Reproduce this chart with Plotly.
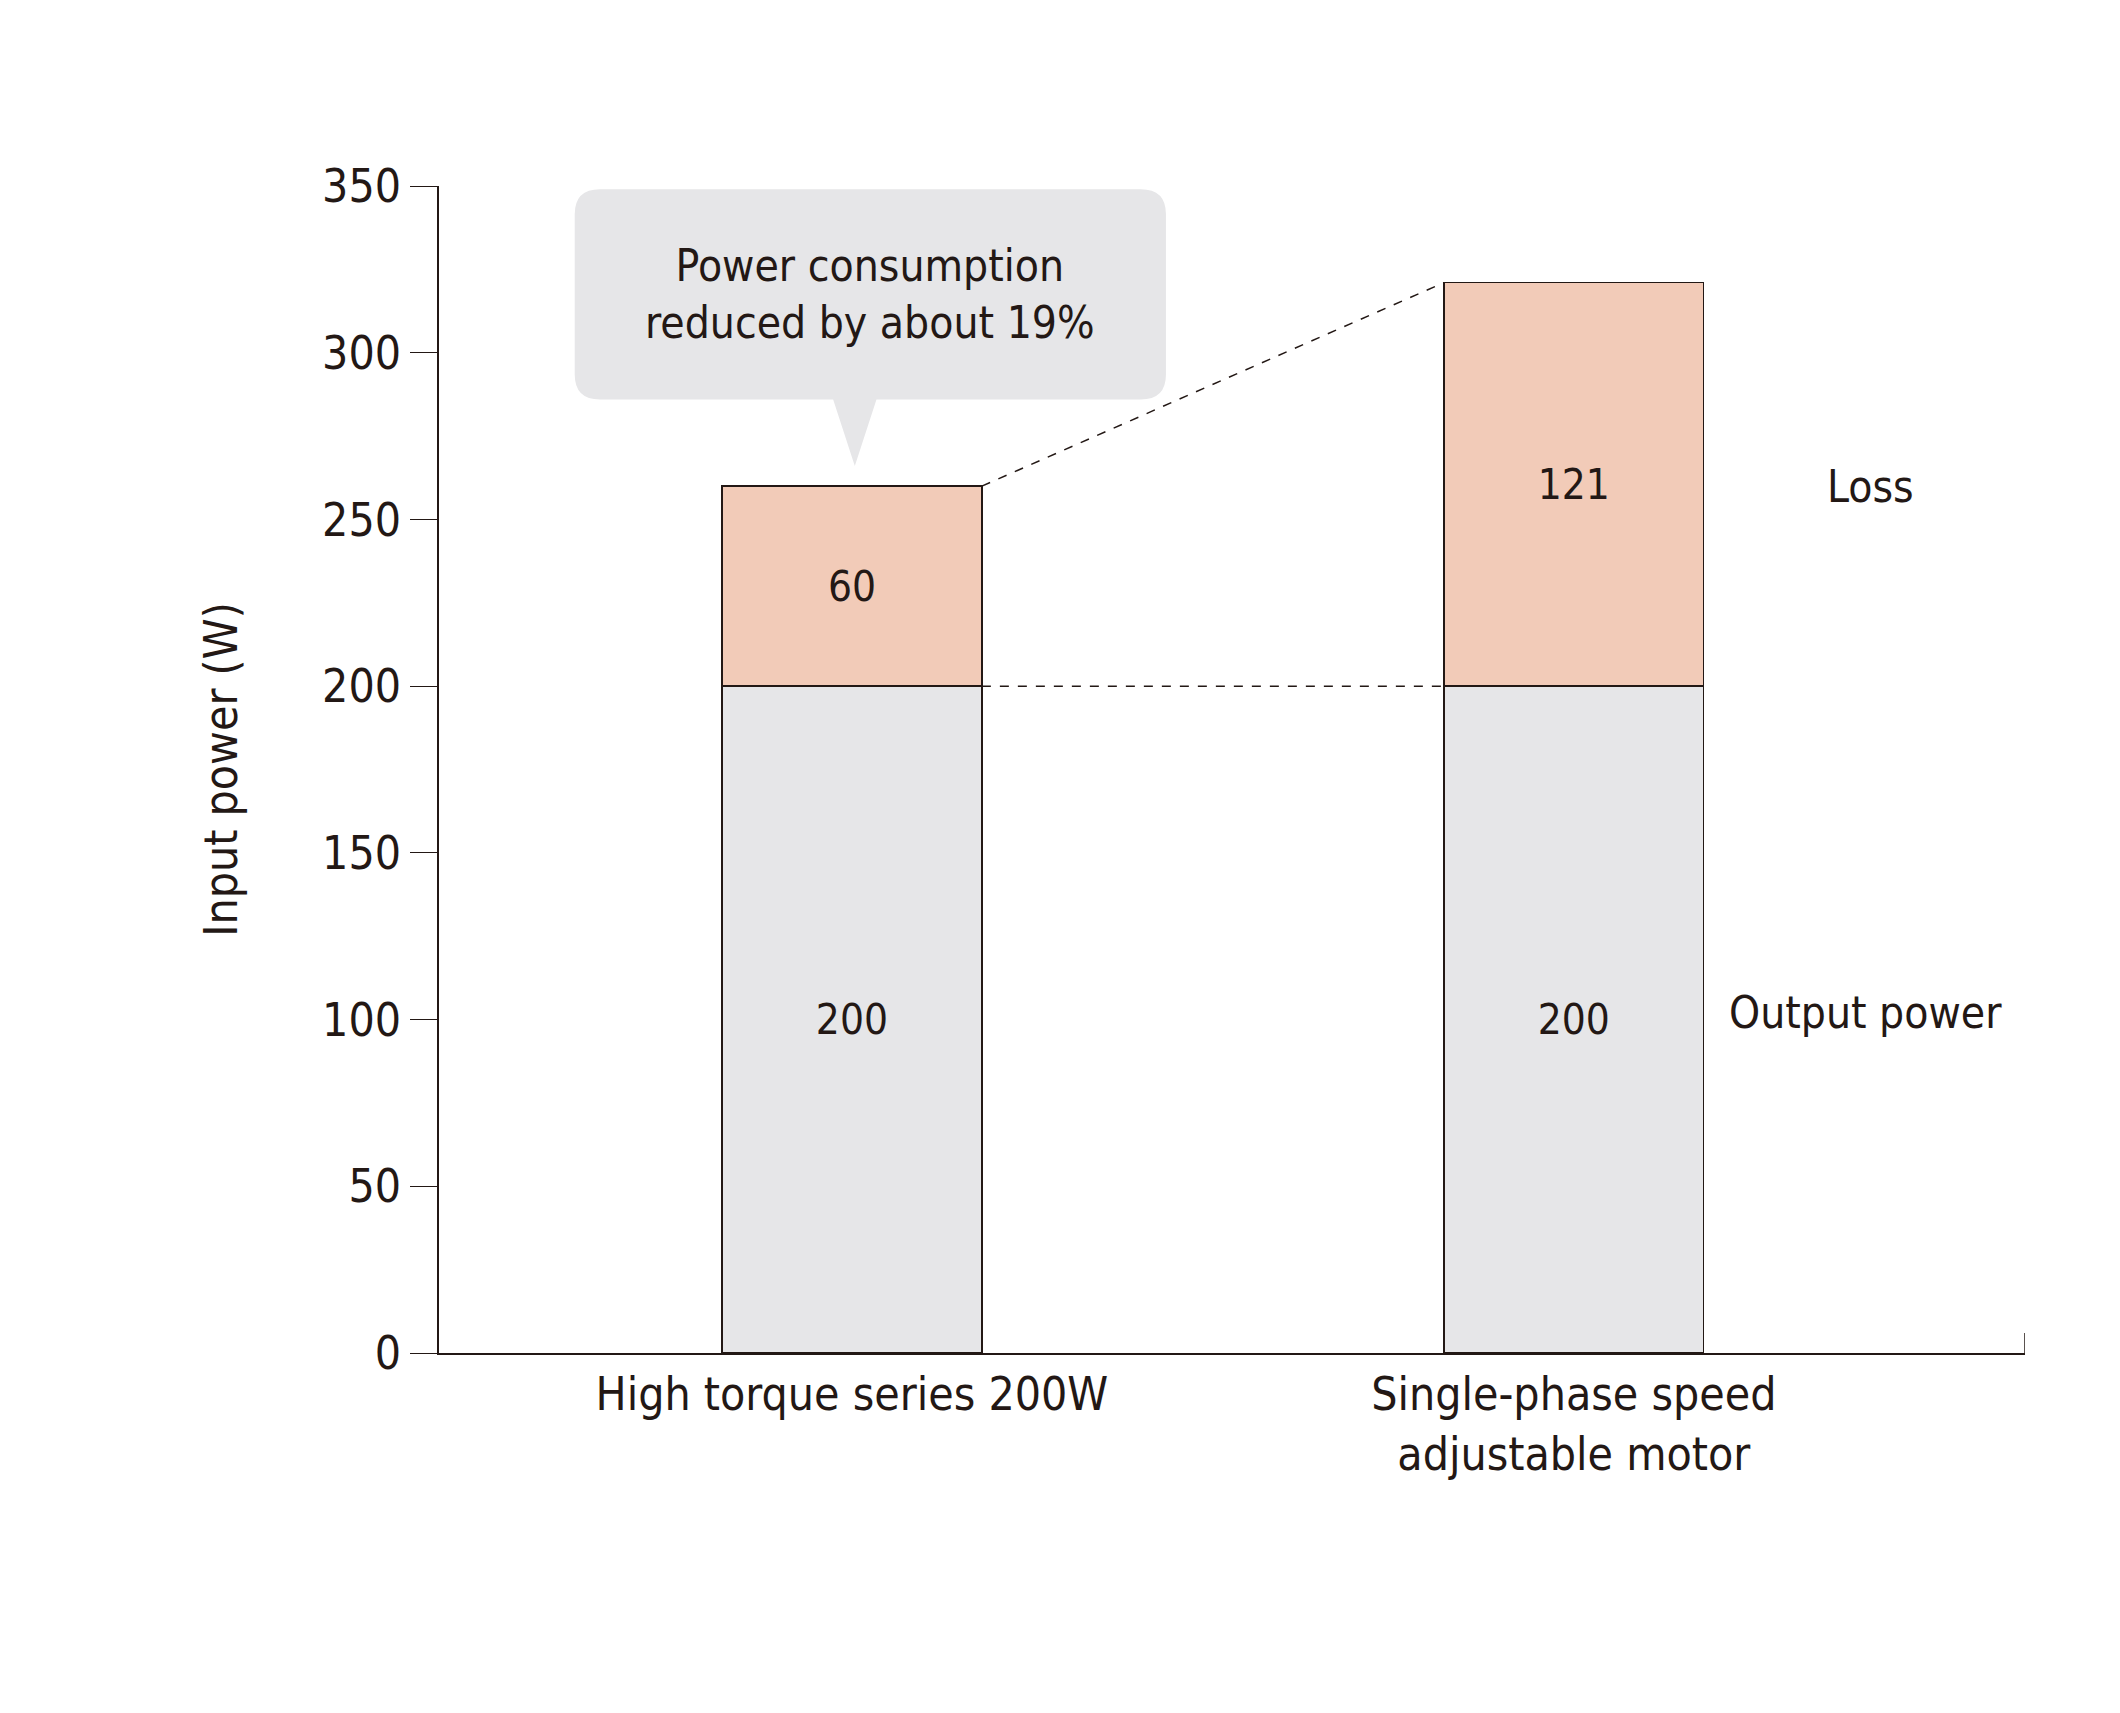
import plotly.graph_objects as go

categories = ["High torque series 200W", "Single-phase speed<br>adjustable motor"]
output_power = [200, 200]
loss = [60, 121]
callout_text = "Power consumption<br>reduced by about 19%"

FONT = "DejaVu Sans Condensed, Liberation Sans Narrow, DejaVu Sans"
TXT = "#231815"
x = [0, 1]
bw = 0.36

fig = go.Figure()
fig.add_trace(go.Bar(x=x, y=output_power, width=bw, name="Output power",
                     marker=dict(color="#e6e6e8", line=dict(color=TXT, width=1.3)),
                     text=[str(v) for v in output_power], textposition="inside",
                     insidetextanchor="middle",
                     textfont=dict(size=42, color=TXT, family=FONT)))
fig.add_trace(go.Bar(x=x, y=loss, width=bw, name="Loss",
                     marker=dict(color="#f2cbb8", line=dict(color=TXT, width=1.3)),
                     text=[str(v) for v in loss], textposition="inside",
                     insidetextanchor="middle",
                     textfont=dict(size=42, color=TXT, family=FONT)))

tops = [o + l for o, l in zip(output_power, loss)]
dash = dict(color=TXT, width=1.5, dash="dash")
fig.add_shape(type="line", x0=x[0] + bw / 2, x1=x[1] - bw / 2, y0=tops[0], y1=tops[1], line=dash)
fig.add_shape(type="line", x0=x[0] + bw / 2, x1=x[1] - bw / 2, y0=output_power[0], y1=output_power[1], line=dash)

# callout bubble (rounded box + pointer), data coords
x0, x1, y0, y1 = -0.384, 0.435, 286, 349
rx, ry = 0.035, 7.5
tipx, tipy = 0.004, 266
path = (f"M {x0+rx},{y0} L {tipx-0.03},{y0} L {tipx},{tipy} L {tipx+0.03},{y0} L {x1-rx},{y0} "
        f"Q {x1},{y0} {x1},{y0+ry} L {x1},{y1-ry} Q {x1},{y1} {x1-rx},{y1} "
        f"L {x0+rx},{y1} Q {x0},{y1} {x0},{y1-ry} L {x0},{y0+ry} Q {x0},{y0} {x0+rx},{y0} Z")
fig.add_shape(type="path", path=path, fillcolor="#e6e6e8", line=dict(width=0), layer="above")
fig.add_annotation(x=(x0 + x1) / 2, y=(y0 + y1) / 2, text=callout_text, showarrow=False,
                   font=dict(size=44, color=TXT, family=FONT), align="center")

fig.add_annotation(x=1.348, y=260, text="Loss", showarrow=False, xanchor="left",
                   font=dict(size=44, color=TXT, family=FONT))
fig.add_annotation(x=1.212, y=102, text="Output power", showarrow=False, xanchor="left",
                   font=dict(size=44, color=TXT, family=FONT))
# small end tick on the x axis
fig.add_shape(type="line", x0=1.625, x1=1.625, y0=0, y1=6, line=dict(color=TXT, width=1.5))

fig.update_layout(
    width=2120, height=1713, barmode="stack", showlegend=False,
    plot_bgcolor="white", paper_bgcolor="white",
    margin=dict(l=431, r=103, t=178, b=368),
    font=dict(family=FONT, color=TXT, size=44),
    xaxis=dict(range=[-0.572, 1.625], tickvals=x, ticktext=categories, showline=True,
               linecolor=TXT, linewidth=1.5, ticks="", showgrid=False, zeroline=False,
               tickfont=dict(size=46)),
    yaxis=dict(range=[0, 350], dtick=50, showline=True, linecolor=TXT, linewidth=1.5,
               ticks="outside", ticklen=27, tickcolor=TXT, showgrid=False, zeroline=False,
               title=dict(text="Input power (W)", font=dict(size=46), standoff=70),
               tickfont=dict(size=46)),
)
fig.write_html("out.html")
